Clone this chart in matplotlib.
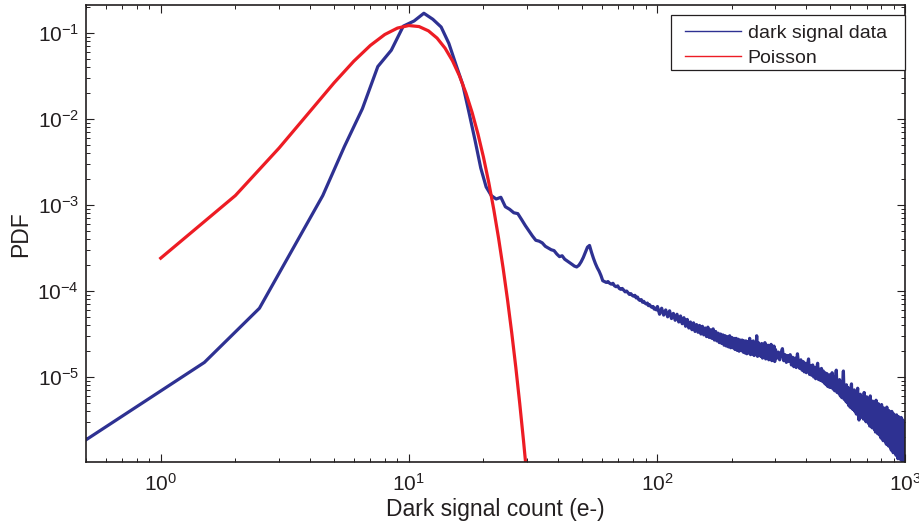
import matplotlib.pyplot as plt
import numpy as np
from matplotlib.lines import Line2D
from matplotlib.patches import Rectangle
from matplotlib.ticker import LogLocator, NullFormatter

plt.rcParams['font.family'] = ['Liberation Sans', 'DejaVu Sans']
plt.rcParams['axes.unicode_minus'] = False
plt.rcParams['mathtext.default'] = 'regular'

# dark signal histogram, log10(PDF), bin centres 0.5 ... 59.5
core_x = np.arange(0.5, 60, 1.0)
core_log = [-5.73, -4.83, -4.20, -3.45, -2.89, -2.32, -1.88, -1.39, -1.20, -0.92,
            -0.86, -0.77, -0.84, -0.93, -1.12, -1.37, -1.60, -1.93, -2.25, -2.57,
            -2.79, -2.89, -2.93, -2.91, -3.02, -3.05, -3.09, -3.10, -3.17, -3.24,
            -3.30, -3.36, -3.41, -3.42, -3.44, -3.48, -3.50, -3.52, -3.53, -3.57,
            -3.60, -3.59, -3.63, -3.65, -3.67, -3.69, -3.71, -3.72, -3.70, -3.66,
            -3.61, -3.55, -3.49, -3.47, -3.55, -3.62, -3.68, -3.73, -3.77, -3.82]

# tail, bins 60.5 ... 99.5
tail1_x = np.arange(60.5, 100, 1.0)
tail1_log = [-3.88, -3.89, -3.90, -3.89, -3.91, -3.92, -3.91, -3.94, -3.95, -3.94,
             -3.97, -3.98, -3.97, -3.99, -4.01, -4.00, -4.02, -4.04, -4.03, -4.05,
             -4.06, -4.05, -4.08, -4.07, -4.10, -4.11, -4.10, -4.13, -4.12, -4.14,
             -4.15, -4.14, -4.17, -4.16, -4.18, -4.19, -4.18, -4.21, -4.20, -4.22]

# tail, every 2nd bin 100.5 ... 298.5
tail2_x = np.arange(100.5, 299, 2.0)
tail2_log = [-4.18, -4.27, -4.20, -4.28, -4.22, -4.30, -4.23, -4.32, -4.26, -4.34,
             -4.27, -4.36, -4.29, -4.38, -4.31, -4.41, -4.33, -4.43, -4.36, -4.45,
             -4.37, -4.47, -4.39, -4.48, -4.40, -4.50, -4.41, -4.51, -4.43, -4.53,
             -4.42, -4.54, -4.45, -4.55, -4.44, -4.57, -4.47, -4.58, -4.49, -4.60,
             -4.50, -4.61, -4.51, -4.63, -4.52, -4.64, -4.53, -4.65, -4.52, -4.66,
             -4.54, -4.66, -4.55, -4.68, -4.55, -4.69, -4.56, -4.70, -4.57, -4.69,
             -4.57, -4.71, -4.58, -4.72, -4.58, -4.73, -4.59, -4.72, -4.55, -4.74,
             -4.59, -4.73, -4.58, -4.75, -4.61, -4.74, -4.52, -4.76, -4.60, -4.75,
             -4.62, -4.76, -4.61, -4.78, -4.63, -4.77, -4.60, -4.79, -4.64, -4.78,
             -4.63, -4.80, -4.65, -4.79, -4.62, -4.81, -4.66, -4.80, -4.64, -4.82]

# tail, every 4th bin 300.5 ... 996.5
tail3_x = np.arange(300.5, 997, 4.0)
tail3_log = [-4.68, -4.78, -4.71, -4.80, -4.72, -4.67, -4.81, -4.74, -4.83, -4.75,
             -4.82, -4.74, -4.86, -4.77, -4.88, -4.78, -4.89, -4.73, -4.85, -4.90,
             -4.80, -4.92, -4.82, -4.94, -4.84, -4.95, -4.86, -4.79, -4.97, -4.87,
             -4.98, -4.86, -5.00, -4.89, -5.02, -4.90, -4.84, -5.03, -4.91, -5.04,
             -4.90, -5.05, -4.93, -5.07, -4.95, -5.09, -4.96, -5.11, -4.98, -5.12,
             -4.97, -5.12, -4.95, -5.14, -5.00, -5.16, -5.02, -4.92, -5.18, -5.05,
             -5.19, -5.03, -5.22, -5.06, -5.24, -5.08, -4.93, -5.26, -5.11, -5.28,
             -5.09, -5.30, -5.12, -5.33, -5.14, -5.35, -5.16, -5.08, -5.37, -5.19,
             -5.38, -5.15, -5.40, -5.19, -5.43, -5.21, -5.13, -5.44, -5.50, -5.24,
             -5.20, -5.44, -5.23, -5.47, -5.25, -5.49, -5.18, -5.47, -5.27, -5.52,
             -5.23, -5.51, -5.27, -5.54, -5.29, -5.57, -5.22, -5.53, -5.31, -5.59,
             -5.28, -5.58, -5.31, -5.61, -5.33, -5.64, -5.27, -5.60, -5.36, -5.66,
             -5.31, -5.64, -5.36, -5.68, -5.38, -5.71, -5.32, -5.67, -5.41, -5.74,
             -5.36, -5.71, -5.40, -5.75, -5.42, -5.78, -5.35, -5.73, -5.46, -5.80,
             -5.39, -5.77, -5.43, -5.82, -5.47, -5.85, -5.40, -5.79, -5.50, -5.88,
             -5.43, -5.82, -5.47, -5.87, -5.50, -5.91, -5.44, -5.85, -5.54, -5.95,
             -5.46, -5.87, -5.51, -5.92, -5.53, -5.96, -5.47, -5.90, -5.57, -5.99,
             -5.50, -5.93, -5.55, -6.05, -5.62]

# Poisson fit, k = 1 ... 30
pois_k = np.arange(1, 31)
pois_pdf = [2.41e-4, 1.29e-3, 4.60e-3, 1.23e-2, 2.64e-2, 4.70e-2, 7.18e-2, 9.61e-2,
            1.142e-1, 1.222e-1, 1.189e-1, 1.060e-1, 8.73e-2, 6.67e-2, 4.76e-2,
            3.18e-2, 2.00e-2, 1.19e-2, 6.70e-3, 3.59e-3, 1.83e-3, 8.89e-4, 4.13e-4,
            1.84e-4, 7.89e-5, 3.25e-5, 1.29e-5, 4.91e-6, 1.81e-6, 6.47e-7]

blue = '#2e3192'
red = '#ed1c24'
black = '#231f20'

dark_x = np.concatenate([core_x, tail1_x, tail2_x, tail3_x])
dark_y = 10.0 ** np.concatenate([core_log, tail1_log, tail2_log, tail3_log])

fig = plt.figure(figsize=(9.2, 5.27), dpi=100)
ax = fig.add_axes([0.0935, 0.1228, 0.8902, 0.8671])

ax.plot(dark_x, dark_y, color=blue, lw=2.3, solid_joinstyle='round')
ax.plot(pois_k, pois_pdf, color=red, lw=2.3)

ax.set_xscale('log')
ax.set_yscale('log')
ax.set_xlim(0.5, 1000)
ax.set_ylim(1.02e-6, 0.21)
ax.set_yticks([1e-5, 1e-4, 1e-3, 1e-2, 1e-1])
ax.yaxis.set_minor_locator(LogLocator(base=10, subs=np.arange(2, 10), numticks=20))
ax.yaxis.set_minor_formatter(NullFormatter())
ax.xaxis.set_minor_formatter(NullFormatter())

for s in ax.spines.values():
    s.set_color(black)
    s.set_linewidth(1.2)
ax.tick_params(which='both', direction='in', top=True, right=True, colors=black,
               labelsize=15)
ax.tick_params(which='major', length=5.8, width=0.8)
ax.tick_params(which='minor', length=3.0, width=0.7)
ax.tick_params(axis='x', pad=8)
ax.tick_params(axis='y', pad=5)
for lab in ax.get_xticklabels() + ax.get_yticklabels():
    lab.set_color(black)

ax.set_xlabel('Dark signal count (e-)', fontsize=16.5, color=black, labelpad=2)
ax.set_ylabel('PDF', fontsize=16.5, color=black, labelpad=4)

# legend: MATLAB style box reaching the right axis edge
handles = [Line2D([], [], color=blue, lw=1.0), Line2D([], [], color=red, lw=1.0)]
leg = ax.legend(handles, ['dark signal data', 'Poisson'], loc='upper right',
                bbox_to_anchor=(0.978, 0.958), borderaxespad=0, borderpad=0,
                frameon=False, fontsize=14, handlelength=2.9, handletextpad=0.35,
                labelspacing=0.35)
leg.set_zorder(6)
for t in leg.get_texts():
    t.set_color(black)
ax.add_patch(Rectangle((0.714, 0.858), 0.286, 0.121, transform=ax.transAxes,
                       facecolor='white', edgecolor=black, lw=0.9, zorder=5.5,
                       clip_on=False))

fig.savefig('out.png', dpi=100)
